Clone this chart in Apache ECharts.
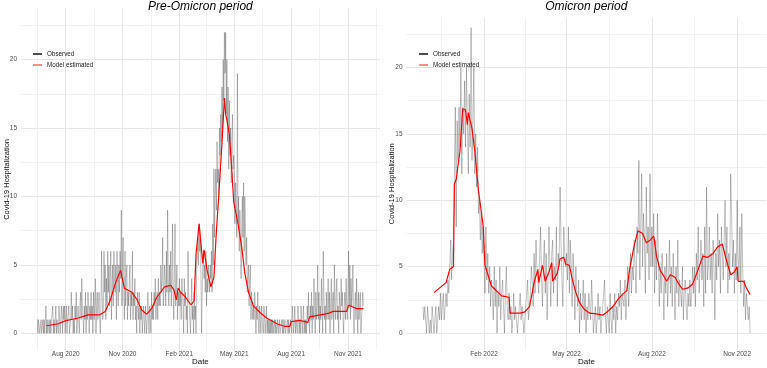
<!DOCTYPE html>
<html><head><meta charset="utf-8">
<script src="https://cdn.jsdelivr.net/npm/echarts@6/dist/echarts.min.js"></script>
<style>html,body{margin:0;padding:0;background:#fff}#c{width:767px;height:368px}</style>
</head><body><div id="c"></div>
<script>
// ---------- DATA ----------
const panelTitles = ['Pre-Omicron period', 'Omicron period'];
const seriesNames = ['Observed', 'Model estimated'];
const yTickLabels = [0, 5, 10, 15, 20];

// Pre-Omicron: daily observed counts from 2020-06-16
const leftObsStart = '2020-06-16';
const leftObserved = [
  1,0,1,1,0,0,1,0,0,1,0,1,0,0,2,
  0,1,0,0,1,0,1,0,1,1,2,0,1,0,1,2,0,1,1,0,2,1,0,1,2,1,0,2,1,2,0,
  1,2,0,1,1,2,0,0,1,3,1,2,0,1,0,2,1,3,0,1,2,1,0,2,3,1,4,2,1,0,2,
  1,3,0,2,1,3,2,0,2,1,3,1,2,0,3,1,2,4,0,2,3,1,2,3,1,0,2,6,3,1,
  2,6,3,5,1,4,2,6,3,5,2,4,6,1,3,5,2,6,4,3,5,1,6,4,2,5,3,6,4,9,2,
  5,7,3,1,6,2,4,5,1,3,2,4,5,1,3,2,6,1,3,2,4,1,2,0,3,2,1,3,0,2,
  1,2,0,1,2,1,0,2,1,0,1,3,1,0,2,1,0,3,1,2,1,3,2,4,1,2,3,1,4,2,3,
  2,5,3,4,7,2,3,5,4,2,6,3,9,4,2,5,3,6,2,4,8,3,1,4,8,2,3,5,1,3,2,
  4,2,3,1,4,3,2,0,4,2,3,1,2,0,6,3,2,1,0,2,4,1,2,0,3,1,2,0,
  5,6,7,5,8,6,7,4,0,3,5,6,4,5,3,6,2,4,3,5,4,3,5,4,6,3,8,5,12,7,10,
  12,9,14,11,12,10,15,13,16,14,18,15,20,17,22,19,22,16,20,14,18,12,17,13,15,11,14,16,12,13,
  12,8,11,9,7,19,8,10,6,9,7,4,8,10,7,11,6,10,8,5,7,3,4,5,2,4,5,1,3,2,1,
  2,1,3,2,0,2,1,3,1,0,2,1,0,2,1,1,0,2,1,0,1,2,0,1,0,1,0,1,0,1,
  0,1,0,0,1,0,1,0,0,1,0,0,1,0,0,0,1,0,1,0,0,1,0,0,0,1,0,1,0,0,1,
  1,0,2,1,0,1,2,0,1,1,0,2,1,0,1,0,2,1,0,1,2,0,1,0,1,0,2,1,3,1,0,
  2,1,3,0,2,1,4,2,0,3,1,2,5,1,3,0,2,1,4,2,0,6,3,1,2,0,3,1,2,4,
  1,3,0,2,4,1,2,3,0,5,2,1,3,4,1,2,0,3,2,1,4,2,3,1,0,2,3,1,4,2,1,
  3,6,2,5,1,4,2,3,5,1,0,2,3,1,4,2,0,3,1,2,3,0,1,2,3,2
];
const leftModelDates = [
  '2020-07-01','2020-07-20','2020-08-01','2020-08-20','2020-09-06','2020-09-25','2020-10-04','2020-10-12',
  '2020-10-20','2020-10-25','2020-10-29','2020-11-01','2020-11-04','2020-11-07','2020-11-16','2020-11-24',
  '2020-12-02','2020-12-10','2020-12-18','2020-12-26','2021-01-08','2021-01-18','2021-01-23','2021-01-27',
  '2021-01-30','2021-02-03','2021-02-10','2021-02-20','2021-02-25','2021-02-28','2021-03-05','2021-03-11',
  '2021-03-13','2021-03-18','2021-03-24','2021-03-29','2021-04-02','2021-04-06','2021-04-11','2021-04-15',
  '2021-04-17','2021-04-19','2021-04-23','2021-04-27','2021-04-30','2021-05-07','2021-05-13','2021-05-18',
  '2021-05-24','2021-06-01','2021-06-12','2021-06-23','2021-07-09','2021-07-22','2021-07-30','2021-08-01',
  '2021-08-15','2021-08-28','2021-08-31','2021-09-17','2021-09-30','2021-10-08','2021-10-30','2021-11-02',
  '2021-11-15','2021-11-26'
];
const leftModelValues = [
  0.55,0.7,0.93,1.1,1.35,1.35,1.6,2.4,
  3.6,4.2,4.6,3.9,3.3,3.4,3.0,2.5,
  1.7,1.4,1.8,2.6,3.4,3.5,3.2,2.45,
  3.3,3.0,2.7,2.07,2.4,5.8,8.0,5.1,
  6.1,4.6,3.4,4.1,7.5,10.2,13.9,17.2,
  16.0,15.6,14.5,11.9,9.6,8.0,6.3,4.4,
  3.0,2.0,1.5,1.1,0.7,0.5,0.5,0.85,
  0.95,0.8,1.2,1.35,1.45,1.6,1.6,2.05,
  1.8,1.8
];

// Omicron: daily observed counts from 2021-11-27
const rightObsStart = '2021-11-27';
const rightObserved = [
  2,1,2,1,
  0,2,1,0,1,0,2,1,0,1,2,0,1,2,1,3,1,2,3,1,2,3,2,4,3,5,7,4,6,7,12,
  17,8,16,13,17,14,20,12,17,15,19,14,20,16,12,18,14,23,13,16,20,12,15,11,14,9,10,7,9,6,8,
  5,3,8,4,6,3,5,2,4,3,1,5,2,4,0,3,2,5,1,3,4,2,0,3,5,2,1,3,
  1,2,0,1,3,1,2,1,0,0,2,3,1,2,1,0,1,2,2,4,1,2,3,5,4,2,6,3,7,5,4,
  3,6,8,4,2,5,7,3,6,1,4,8,5,2,6,7,3,5,4,8,2,6,5,11,7,4,2,8,6,5,
  6,4,8,3,7,5,2,6,4,1,5,3,2,4,0,3,1,2,4,1,3,0,2,1,3,2,1,4,2,0,1,
  2,0,1,3,1,2,0,1,2,3,4,1,0,2,1,0,3,1,0,2,1,3,0,2,1,3,2,4,1,3,
  3,2,4,1,3,5,2,4,6,3,5,4,7,5,3,8,6,13,4,8,12,5,9,7,3,11,6,8,4,12,5,
  8,5,9,3,7,4,9,6,2,5,3,6,4,1,5,3,6,2,4,7,3,5,2,6,4,1,5,3,7,2,4,
  3,2,5,1,3,4,2,1,3,2,4,2,3,5,3,5,2,6,4,8,3,5,7,4,6,2,8,3,11,4,
  5,8,4,6,3,7,5,1,6,4,9,5,7,3,8,6,4,7,10,5,8,3,6,4,12,9,5,7,3,6,4,
  10,6,4,8,3,9,5,2,4,1,3,2,1,2,0
];
const rightModelDates = [
  '2021-12-09','2021-12-22','2021-12-26','2021-12-30','2021-12-31','2022-01-02','2022-01-06','2022-01-09',
  '2022-01-12','2022-01-14','2022-01-15','2022-01-19','2022-01-22','2022-01-26','2022-01-31','2022-02-02',
  '2022-02-09','2022-02-20','2022-02-28','2022-03-01','2022-03-12','2022-03-17','2022-03-22','2022-03-27',
  '2022-03-31','2022-04-01','2022-04-05','2022-04-08','2022-04-12','2022-04-15','2022-04-16','2022-04-21',
  '2022-04-24','2022-04-28','2022-04-30','2022-05-04','2022-05-07','2022-05-11','2022-05-15','2022-05-20',
  '2022-05-26','2022-06-02','2022-06-09','2022-06-14','2022-06-20','2022-06-25','2022-06-30','2022-07-05',
  '2022-07-08','2022-07-13','2022-07-17','2022-07-22','2022-07-26','2022-07-30','2022-08-03','2022-08-06',
  '2022-08-10','2022-08-13','2022-08-17','2022-08-21','2022-08-26','2022-08-30','2022-09-03','2022-09-09',
  '2022-09-14','2022-09-20','2022-09-25','2022-09-30','2022-10-06','2022-10-11','2022-10-16','2022-10-20',
  '2022-10-25','2022-10-29','2022-11-01','2022-11-02','2022-11-08','2022-11-11','2022-11-15'
];
const rightModelValues = [
  3.05,3.8,4.8,5.0,11.2,11.6,13.7,16.9,
  16.8,15.7,16.6,15.4,13.7,10.7,8.1,5.1,
  3.55,2.8,2.7,1.5,1.5,1.6,2.0,3.8,
  4.8,3.8,5.1,3.9,4.6,5.3,3.9,4.5,
  5.6,5.7,5.2,5.1,4.1,3.05,2.3,1.8,
  1.5,1.45,1.35,1.6,2.0,2.5,2.9,3.2,
  4.8,6.6,7.7,7.5,6.8,7.0,7.3,5.8,
  4.7,4.4,3.9,4.4,4.2,3.7,3.3,3.4,
  3.7,4.8,5.8,5.7,6.0,6.5,6.7,5.6,
  4.4,4.6,5.0,3.9,3.9,3.4,2.9
];

// x-axis ticks
const leftMajorTicks = ['2020-08-01','2020-11-01','2021-02-01','2021-05-01','2021-08-01','2021-11-01'];
const leftMinorTicks = ['2020-06-16','2020-09-16','2020-12-17','2021-03-17','2021-06-16','2021-09-16','2021-12-17'];
const rightMajorTicks = ['2022-02-01','2022-05-01','2022-08-01','2022-11-01'];
const rightMinorTicks = ['2021-12-17','2022-03-17','2022-06-16','2022-09-16'];

// ---------- BUILD ----------
function ts(s, add) {
  const p = s.split('-').map(Number);
  return Date.UTC(p[0], p[1] - 1, p[2] + (add || 0));
}
function daily(start, vals) { return vals.map((v, i) => [ts(start, i), v]); }
function pairs(dates, vals) { return dates.map((d, i) => [ts(d), vals[i]]); }
const MON = ['Jan','Feb','Mar','Apr','May','Jun','Jul','Aug','Sep','Oct','Nov','Dec'];
const FONT = 'Liberation Sans, Arial, sans-serif';
const MAJOR = '#e6e6e6', MINOR = '#f1f1f1', NONE = 'rgba(0,0,0,0)';

const grids = [
  {left: 21, top: 8.4, width: 358.7, height: 342, outerBoundsMode: 'none', containLabel: false},
  {left: 406.5, top: 17.7, width: 360, height: 332, outerBoundsMode: 'none', containLabel: false}
];
const xRanges = [
  [Date.UTC(2020,4,20,14), Date.UTC(2021,11,22,10)],
  [Date.UTC(2021,10,9,8), Date.UTC(2022,11,2,16)]
];
const majors = [leftMajorTicks, rightMajorTicks];
const minors = [leftMinorTicks, rightMinorTicks];
const labelMargins = [0, 1];

const xAxis = [], yAxis = [], series = [], legend = [], title = [];
[0, 1].forEach(g => {
  xAxis.push({
    type: 'value', gridIndex: g, min: xRanges[g][0], max: xRanges[g][1],
    name: 'Date', nameLocation: 'middle', nameGap: g === 0 ? 7.5 : 8.2, nameMoveOverlap: false,
    nameTextStyle: {fontSize: 8, color: '#111', fontFamily: FONT},
    axisLine: {show: false},
    axisTick: {show: false, customValues: majors[g].map(d => ts(d))},
    axisLabel: {customValues: majors[g].map(d => ts(d)), fontSize: 6.5, color: '#4d4d4d', fontFamily: FONT,
      margin: labelMargins[g],
      formatter: v => { const d = new Date(v); return MON[d.getUTCMonth()] + ' ' + d.getUTCFullYear(); }},
    splitLine: {show: true, lineStyle: {color: MAJOR, width: 1}}
  });
  xAxis.push({
    type: 'value', gridIndex: g, min: xRanges[g][0], max: xRanges[g][1], position: 'bottom',
    axisLine: {show: false},
    axisTick: {show: false, customValues: minors[g].map(d => ts(d))},
    axisLabel: {show: false},
    splitLine: {show: true, lineStyle: {color: MINOR, width: 1}}
  });
  yAxis.push({
    type: 'value', gridIndex: g, min: -1.25, max: 23.75, interval: 1.25,
    name: 'Covid-19 Hospitalization', nameLocation: 'middle', nameGap: g === 0 ? 10.5 : 11, nameMoveOverlap: false,
    nameTextStyle: {fontSize: 7.5, color: '#111', fontFamily: FONT},
    axisLine: {show: false}, axisTick: {show: false},
    axisLabel: {fontSize: 6.5, color: '#4d4d4d', fontFamily: FONT, margin: 4,
      formatter: v => { const r = Math.round(v * 100) / 100; return yTickLabels.indexOf(r) >= 0 ? String(r) : ''; }},
    splitLine: {show: true, lineStyle: {color: [NONE, MAJOR, NONE, MINOR], width: 1}}
  });
  title.push({
    text: panelTitles[g], left: g === 0 ? 200.4 : 586.3, top: 1, padding: 0, textAlign: 'center',
    textStyle: {fontSize: 12, fontStyle: 'italic', fontWeight: 'normal', color: '#000', fontFamily: FONT}
  });
  legend.push({
    left: g === 0 ? 28 : 414, top: 45, orient: 'vertical', selectedMode: false,
    icon: 'rect', itemWidth: 9, itemHeight: 1.4, itemGap: 3,
    textStyle: {fontSize: 6.3, color: '#222', fontFamily: FONT, lineHeight: 8},
    data: [
      {name: seriesNames[0], itemStyle: {color: '#000'}, lineStyle: {color: '#000', width: 1}},
      {name: seriesNames[1], itemStyle: {color: '#ff6060'}, lineStyle: {color: '#ff6060', width: 1.4}}
    ]
  });
});

series.push({
  name: seriesNames[0], type: 'line', xAxisIndex: 0, yAxisIndex: 0, showSymbol: false, silent: true,
  data: daily(leftObsStart, leftObserved), lineStyle: {color: 'rgba(0,0,0,0.27)', width: 0.9}, itemStyle: {color: '#000'}
});
series.push({
  name: seriesNames[1], type: 'line', xAxisIndex: 0, yAxisIndex: 0, showSymbol: false, silent: true,
  data: pairs(leftModelDates, leftModelValues), lineStyle: {color: '#ff0000', width: 1.2}, itemStyle: {color: '#ff0000'}
});
series.push({
  name: seriesNames[0], type: 'line', xAxisIndex: 2, yAxisIndex: 1, showSymbol: false, silent: true,
  data: daily(rightObsStart, rightObserved), lineStyle: {color: 'rgba(0,0,0,0.27)', width: 0.9}, itemStyle: {color: '#000'}
});
series.push({
  name: seriesNames[1], type: 'line', xAxisIndex: 2, yAxisIndex: 1, showSymbol: false, silent: true,
  data: pairs(rightModelDates, rightModelValues), lineStyle: {color: '#ff0000', width: 1.2}, itemStyle: {color: '#ff0000'}
});

const chart = echarts.init(document.getElementById('c'), null, {renderer: 'canvas'});
chart.setOption({
  animation: false, backgroundColor: '#fff',
  title, legend, grid: grids, xAxis, yAxis, series
});
</script></body></html>
